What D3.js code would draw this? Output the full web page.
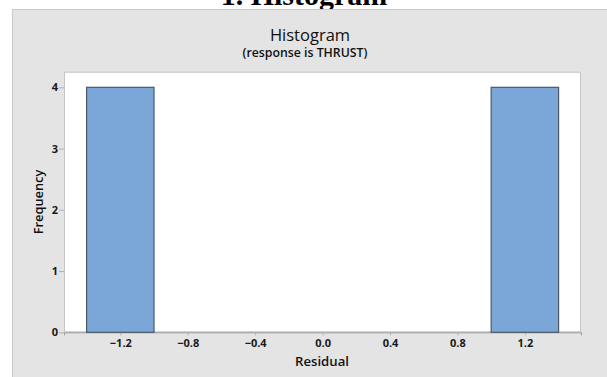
<!DOCTYPE html>
<html>
<head>
<meta charset="utf-8">
<script src="https://cdn.jsdelivr.net/npm/d3@7"></script>
<style>
  body { margin: 0; background: #fff; }
  svg { display: block; }
</style>
</head>
<body>
<script>
// bins (midpoints) and counts
var binMids = [-1.2, -0.8, -0.4, 0.0, 0.4, 0.8, 1.2];
var counts = [4, 0, 0, 0, 0, 0, 4];
var binWidth = 0.4;
var xTicks = [-1.2, -0.8, -0.4, 0.0, 0.4, 0.8, 1.2];
var yTicks = [0, 1, 2, 3, 4];

var W = 607, H = 377;
var plot = {left: 64, right: 581, top: 71.7, bottom: 332.3};
var uiFont = "'Open Sans', 'Noto Sans', sans-serif";

var svg = d3.select("body").append("svg")
    .attr("width", W)
    .attr("height", H);

// page heading, partly cut off at the top like the source
svg.append("text")
    .attr("x", 304)
    .attr("y", 4.5)
    .attr("text-anchor", "middle")
    .style("font-family", "'Liberation Serif', 'Times New Roman', serif")
    .style("font-weight", "bold")
    .style("font-size", "30px")
    .text("1. Histogram");

// grey graph panel
svg.append("rect")
    .attr("x", 12.5).attr("y", 9.5)
    .attr("width", 600).attr("height", 372)
    .attr("fill", "#e4e4e4")
    .attr("stroke", "#c9c9c9");

var x = d3.scaleLinear()
    .domain([-1.534, 1.533])
    .range([plot.left, plot.right]);

var y = d3.scaleLinear()
    .domain([0, 4.255])
    .range([plot.bottom, plot.top]);

// white data region
svg.append("rect")
    .attr("x", plot.left + 0.5).attr("y", plot.top + 0.5)
    .attr("width", plot.right - plot.left - 1)
    .attr("height", plot.bottom - plot.top - 1)
    .attr("fill", "#fff")
    .attr("stroke", "#c4c4c4");

// titles
svg.append("text")
    .attr("x", 310).attr("y", 41)
    .attr("text-anchor", "middle")
    .style("font-family", uiFont)
    .style("font-size", "16.5px")
    .style("fill", "#111")
    .text("Histogram");

svg.append("text")
    .attr("x", 305).attr("y", 57)
    .attr("text-anchor", "middle")
    .style("font-family", uiFont)
    .style("font-weight", 600)
    .style("font-size", "12.3px")
    .style("fill", "#111")
    .text("(response is THRUST)");

// axes
var xAxis = d3.axisBottom(x)
    .tickValues(xTicks)
    .tickSize(3)
    .tickFormat(d3.format(".1f"));

var gx = svg.append("g")
    .attr("transform", "translate(0," + plot.bottom + ")")
    .call(xAxis);
gx.select(".domain").attr("stroke", "#9a9a9a");

var yAxis = d3.axisLeft(y)
    .tickValues(yTicks)
    .tickSize(5)
    .tickFormat(d3.format("d"));

var gy = svg.append("g")
    .attr("transform", "translate(" + plot.left + ",0)")
    .call(yAxis);
gy.select(".domain").remove();

svg.selectAll(".tick line").attr("stroke", "#b0b0b0");
svg.selectAll(".tick text")
    .style("font-family", uiFont)
    .style("font-weight", "bold")
    .style("font-size", "11px")
    .style("fill", "#1a1a1a");
gx.selectAll(".tick text").attr("dy", "0.95em").attr("y", 4);
gy.selectAll(".tick text").attr("x", -6);

// histogram bars
svg.append("g").selectAll("rect")
    .data(binMids)
    .enter().append("rect")
    .attr("x", function(d) { return x(d - binWidth / 2); })
    .attr("y", function(d, i) { return y(counts[i]); })
    .attr("width", function(d) { return x(d + binWidth / 2) - x(d - binWidth / 2); })
    .attr("height", function(d, i) { return y(0) - y(counts[i]); })
    .attr("fill", "#7ba7d8")
    .attr("stroke", "#4d5765")
    .attr("stroke-width", 1.2);

// axis titles
svg.append("text")
    .attr("transform", "translate(43," + ((plot.top + plot.bottom) / 2) + ") rotate(-90)")
    .attr("text-anchor", "middle")
    .style("font-family", uiFont)
    .style("font-weight", 600)
    .style("font-size", "12.8px")
    .style("fill", "#111")
    .text("Frequency");

svg.append("text")
    .attr("x", 322).attr("y", 366)
    .attr("text-anchor", "middle")
    .style("font-family", uiFont)
    .style("font-weight", 600)
    .style("font-size", "13.2px")
    .style("fill", "#111")
    .text("Residual");
</script>
</body>
</html>
